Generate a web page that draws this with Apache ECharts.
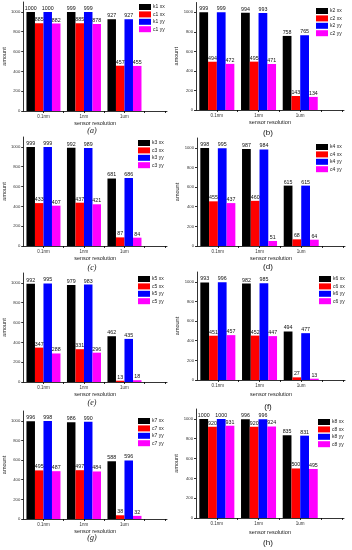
<!DOCTYPE html>
<html><head><meta charset="utf-8">
<script src="https://cdn.jsdelivr.net/npm/echarts@6/dist/echarts.min.js"></script>
<style>html,body{margin:0;padding:0;background:#fff}#c{width:352px;height:550px}</style>
</head><body><div id="c"></div>
<script>
// categories and their positions on the x value axis
const categories = ['0.1nm', '1nm', '1um'];
const catPos = [0.5, 1.5, 2.5];
const xTicks = [0.5, 1, 1.5, 2, 2.5, 3, 3.5];
const yTicks = [0, 200, 400, 600, 800, 1000];
const panelNames = ['a', 'b', 'c', 'd', 'e', 'f', 'g', 'h'];

// series values per panel (xx / yy for k and c)
const a_kxx = [1000, 999, 927], a_cxx = [885, 885, 457], a_kyy = [1000, 999, 927], a_cyy = [882, 878, 455];
const b_kxx = [999, 994, 758],  b_cxx = [494, 495, 143], b_kyy = [999, 993, 765],  b_cyy = [472, 471, 134];
const c_kxx = [999, 992, 681],  c_cxx = [433, 437, 87],  c_kyy = [999, 989, 686],  c_cyy = [407, 421, 84];
const d_kxx = [998, 987, 615],  d_cxx = [455, 460, 68],  d_kyy = [995, 984, 615],  d_cyy = [437, 51, 64];
const e_kxx = [992, 979, 462],  e_cxx = [347, 331, 13],  e_kyy = [995, 983, 435],  e_cyy = [288, 296, 18];
const f_kxx = [993, 982, 494],  f_cxx = [451, 452, 27],  f_kyy = [996, 985, 477],  f_cyy = [457, 447, 13];
const g_kxx = [996, 986, 588],  g_cxx = [495, 497, 38],  g_kyy = [998, 990, 596],  g_cyy = [487, 484, 32];
const h_kxx = [1000, 996, 835], h_cxx = [920, 920, 500], h_kyy = [1000, 996, 831], h_cyy = [931, 924, 495];

const panelData = {
  a: [a_kxx, a_cxx, a_kyy, a_cyy], b: [b_kxx, b_cxx, b_kyy, b_cyy],
  c: [c_kxx, c_cxx, c_kyy, c_cyy], d: [d_kxx, d_cxx, d_kyy, d_cyy],
  e: [e_kxx, e_cxx, e_kyy, e_cyy], f: [f_kxx, f_cxx, f_kyy, f_cyy],
  g: [g_kxx, g_cxx, g_kyy, g_cyy], h: [h_kxx, h_cxx, h_kyy, h_cyy]
};

// layout (pixels)
const layout = {
  a: {l: 19,  t: 2,   h: 109, lx: 139, ly: 4,   cx: 92,  cy: 131, ng: 8.5},
  b: {l: 196, t: 2.5, h: 107.5, lx: 316, ly: 8, cx: 268, cy: 133, ng: 9.5},
  c: {l: 19,  t: 137, h: 109, lx: 138, ly: 140, cx: 92,  cy: 268, ng: 9.5},
  d: {l: 197, t: 138, h: 108, lx: 316, ly: 144, cx: 268, cy: 267, ng: 9.5},
  e: {l: 19,  t: 273, h: 109, lx: 138, ly: 276, cx: 92,  cy: 403, ng: 8.5},
  f: {l: 197, t: 272, h: 108, lx: 319, ly: 276, cx: 268, cy: 407, ng: 11},
  g: {l: 19,  t: 411, h: 108, lx: 138, ly: 418, cx: 92,  cy: 538, ng: 7},
  h: {l: 196, t: 409, h: 109, lx: 318, ly: 419, cx: 268, cy: 543, ng: 11}
};
const colors = ['#000000', '#ff0000', '#0000ff', '#ff00ff'];
const FONT = 'Liberation Sans';

const grid = [], xAxis = [], yAxis = [], series = [], legend = [], graphic = [];
panelNames.forEach((p, i) => {
  const L = layout[p];
  const n = i + 1;
  const names = ['k' + n + ' xx', 'c' + n + ' xx', 'k' + n + ' yy', 'c' + n + ' yy'];
  grid.push({left: L.l, top: L.t, width: 148, height: L.h});
  xAxis.push({
    type: 'value', gridIndex: i, min: 0, max: 3.55,
    name: 'sensor resolution', nameLocation: 'middle', nameGap: L.ng,
    nameTextStyle: {fontSize: 5.5, fontFamily: FONT, color: '#222'},
    splitLine: {show: false},
    axisLine: {show: true, lineStyle: {color: '#000', width: 0.8}},
    axisTick: {show: true, customValues: xTicks, length: 2, lineStyle: {color: '#000', width: 0.8}},
    axisLabel: {customValues: catPos, margin: 3.5, fontSize: 4.5, fontFamily: FONT, color: '#333',
      formatter: v => categories[catPos.indexOf(v)] || ''}
  });
  yAxis.push({
    type: 'value', gridIndex: i, min: 0, max: 1100,
    name: 'amount', nameLocation: 'middle', nameGap: 12,
    nameTextStyle: {fontSize: 5.5, fontFamily: FONT, color: '#222'},
    splitLine: {show: false},
    axisLine: {show: true, lineStyle: {color: '#000', width: 0.8}},
    axisTick: {show: true, customValues: yTicks, length: 2, lineStyle: {color: '#000', width: 0.8}},
    axisLabel: {customValues: yTicks, margin: 3, fontSize: 4.2, fontFamily: FONT, color: '#333',
      formatter: v => String(v)}
  });
  panelData[p].forEach((vals, k) => {
    series.push({
      type: 'bar', name: names[k], xAxisIndex: i, yAxisIndex: i,
      data: vals.map((v, j) => [catPos[j], v]),
      barGap: '0%', barCategoryGap: '16%',
      itemStyle: {color: colors[k]},
      label: {show: true, position: 'top', distance: 1, fontSize: 5.3, fontFamily: FONT, color: '#111',
        formatter: prm => String(prm.value[1])}
    });
  });
  legend.push({
    data: names, orient: 'vertical', left: L.lx, top: L.ly,
    itemWidth: 12, itemHeight: 6, itemGap: 1.4, icon: 'rect', padding: 0,
    selectedMode: false,
    textStyle: {fontSize: 5, fontFamily: FONT, color: '#222', padding: [0, 0, 0, -3]}
  });
  const italic = (i % 2 === 0);
  graphic.push({
    type: 'text', x: L.cx, y: L.cy,
    style: {text: '(' + p + ')', align: 'center', verticalAlign: 'middle',
      font: (italic ? 'italic ' : '') + '8px ' + (italic ? '"Liberation Serif"' : '"Liberation Sans"'),
      fill: '#111'}
  });
});

const chart = echarts.init(document.getElementById('c'), null, {renderer: 'canvas'});
chart.setOption({animation: false, grid, xAxis, yAxis, series, legend, graphic});
</script>
</body></html>
